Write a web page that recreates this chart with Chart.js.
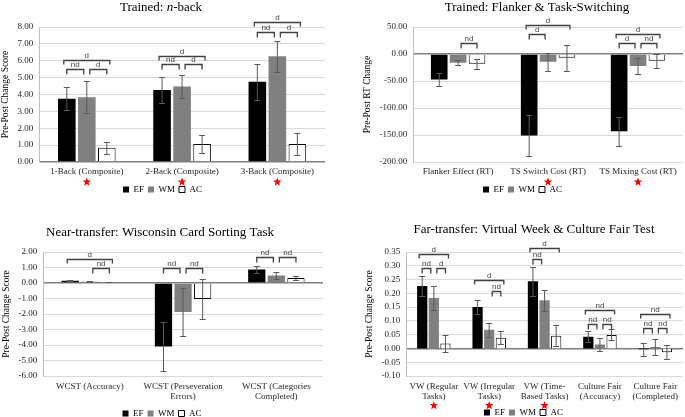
<!DOCTYPE html>
<html>
<head>
<meta charset="utf-8">
<script src="https://cdn.jsdelivr.net/npm/chart.js@4"></script>
<style>
  body { margin: 0; background: #fff; }
  #wrap { position: relative; width: 685px; height: 417px; overflow: hidden; }
  .p { position: absolute; }
</style>
</head>
<body>
<div id="wrap">
  <div class="p" style="left:0;top:0"><canvas id="c1" width="340" height="208"></canvas></div>
  <div class="p" style="left:340px;top:0"><canvas id="c2" width="345" height="208"></canvas></div>
  <div class="p" style="left:0;top:210px"><canvas id="c3" width="340" height="207"></canvas></div>
  <div class="p" style="left:340px;top:210px"><canvas id="c4" width="345" height="207"></canvas></div>
</div>
<script>
// groups
const groups = ['EF', 'WM', 'AC'];

// Trained: n-back
const nbackCats = ['1-Back (Composite)', '2-Back (Composite)', '3-Back (Composite)'];
const nbackEF = [3.75, 4.27, 4.76];
const nbackWM = [3.84, 4.48, 6.27];
const nbackAC = [0.84, 1.07, 1.07];
const nbackEFerr = [0.68, 0.77, 1.07];
const nbackWMerr = [0.95, 0.70, 0.92];
const nbackACerr = [0.35, 0.53, 0.65];
// [category, from bar, to bar, height (data units), label]
const nbackBrackets = [[0,0,1,5.5,'nd'],[0,1,2,5.5,'d'],[0,0,2,6.03,'d'],
                       [1,0,1,5.79,'nd'],[1,1,2,5.79,'d'],[1,0,2,6.31,'d'],
                       [2,0,1,7.68,'nd'],[2,1,2,7.68,'d'],[2,0,2,8.28,'d']];
const nbackStars = [0, 1, 2];

// Trained: Flanker & Task-Switching
const flankCats = ['Flanker Effect (RT)', 'TS Switch Cost (RT)', 'TS Mixing Cost (RT)'];
const flankEF = [-47, -151, -143];
const flankWM = [-16, -14.5, -22];
const flankAC = [-18, -7, -12.6];
const flankEFerr = [11.5, 38, 26.5];
const flankWMerr = [5, 17, 15];
const flankACerr = [9, 24, 13];
const flankBrackets = [[0,1,2,20.8,'nd'],[1,0,1,36.6,'d'],[1,0,2,53.7,'d'],
                       [2,0,1,20.8,'d'],[2,1,2,20.8,'nd'],[2,0,2,37.9,'d']];
const flankStars = [1, 2];

// Near-transfer: WCST
const wcstCats = ['WCST (Accuracy)', ['WCST (Perseveration', 'Errors)'], ['WCST (Categories', 'Completed)']];
const wcstEF = [0.15, -4.09, 0.87];
const wcstWM = [0.08, -1.87, 0.48];
const wcstAC = [0.07, -1.04, 0.33];
const wcstEFerr = [0.03, 1.6, 0.22];
const wcstWMerr = [0.02, 1.55, 0.24];
const wcstACerr = [0.02, 1.27, 0.15];
const wcstBrackets = [[0,0,2,1.52,'d'],[0,1,2,0.98,'nd'],[1,0,1,0.98,'nd'],[1,1,2,0.98,'nd'],
                      [2,0,1,1.67,'nd'],[2,1,2,1.67,'nd']];
const wcstStars = [];

// Far-transfer: Virtual Week & Culture Fair
const farCats = [['VW (Regular', 'Tasks)'], ['VW (Irregular', 'Tasks)'], ['VW (Time-', 'Based Tasks)'],
                 ['Culture Fair', '(Accuracy)'], ['Culture Fair', '(Completed)']];
const farEF = [0.227, 0.150, 0.244, 0.042, -0.003];
const farWM = [0.183, 0.068, 0.175, 0.014, 0.005];
const farAC = [0.018, 0.039, 0.046, 0.049, -0.014];
const farEFerr = [0.036, 0.025, 0.053, 0.020, 0.023];
const farWMerr = [0.043, 0.025, 0.038, 0.025, 0.029];
const farACerr = [0.030, 0.024, 0.038, 0.020, 0.025];
const farBrackets = [[0,0,2,0.343,'d'],[0,0,1,0.293,'nd'],[0,1,2,0.293,'d'],
                     [1,0,2,0.248,'d'],[1,1,2,0.207,'nd'],
                     [2,0,2,0.365,'d'],[2,0,1,0.324,'nd'],
                     [3,0,2,0.14,'nd'],[3,0,1,0.088,'nd'],[3,1,2,0.088,'nd'],
                     [4,0,2,0.125,'nd'],[4,0,1,0.073,'nd'],[4,1,2,0.073,'nd']];
const farStars = [0, 1, 2];

const SERIF = '"Liberation Serif", "Times New Roman", serif';
const SANS = '"Liberation Sans", Arial, sans-serif';

function drawStar(ctx, cx, cy, r) {
  ctx.beginPath();
  for (let k = 0; k < 10; k++) {
    const rr = k % 2 ? r * 0.42 : r;
    const a = -Math.PI / 2 + k * Math.PI / 5;
    const px = cx + rr * Math.cos(a), py = cy + rr * Math.sin(a);
    k ? ctx.lineTo(px, py) : ctx.moveTo(px, py);
  }
  ctx.closePath();
  ctx.fill();
}

// error bars, significance brackets, stars and the title
const extras = {
  id: 'extras',
  afterDatasetsDraw(chart, args, o) {
    const ctx = chart.ctx, y = chart.scales.y;
    ctx.save();
    ctx.strokeStyle = '#595959';
    ctx.lineWidth = 1;
    chart.data.datasets.forEach((ds, i) => {
      const meta = chart.getDatasetMeta(i);
      ds.err.forEach((e, j) => {
        const bx = meta.data[j].x, v = ds.data[j];
        const yt = Math.round(y.getPixelForValue(v + e)) + 0.5;
        const yb = Math.round(y.getPixelForValue(v - e)) + 0.5;
        ctx.beginPath();
        ctx.moveTo(bx, yt); ctx.lineTo(bx, yb);
        ctx.moveTo(bx - 3, yt); ctx.lineTo(bx + 3, yt);
        ctx.moveTo(bx - 3, yb); ctx.lineTo(bx + 3, yb);
        ctx.stroke();
      });
    });

    // brackets
    ctx.strokeStyle = '#404040';
    ctx.lineWidth = 1.3;
    ctx.fillStyle = '#404040';
    ctx.font = '8px ' + SANS;
    ctx.textAlign = 'center';
    ctx.textBaseline = 'bottom';
    o.brackets.forEach(([c, a, b, v, lab]) => {
      let x1 = chart.getDatasetMeta(a).data[c].x;
      let x2 = chart.getDatasetMeta(b).data[c].x;
      if (b - a === 2) { x1 -= 3; x2 += 3; }
      else if (a === 0) { x2 -= 3; }
      else { x1 += 3; }
      const by = Math.round(y.getPixelForValue(v)) + 0.5;
      const tick = b - a === 2 ? 4 : 5;
      ctx.beginPath();
      ctx.moveTo(x1, by + tick); ctx.lineTo(x1, by); ctx.lineTo(x2, by); ctx.lineTo(x2, by + tick);
      ctx.stroke();
      ctx.fillText(lab, (x1 + x2) / 2, by - 1);
    });
    ctx.restore();
  },
  afterDraw(chart, args, o) {
    const ctx = chart.ctx, x = chart.scales.x;
    ctx.save();
    ctx.fillStyle = '#ff0000';
    o.stars.forEach(c => drawStar(ctx, x.getPixelForValue(c), x.top + o.starOffset, 4.5));
    // title with mixed styles
    ctx.fillStyle = '#000';
    ctx.textBaseline = 'middle';
    ctx.textAlign = 'left';
    const f = p => (p.italic ? 'italic ' : '') + '13px ' + SERIF;
    let total = 0;
    o.title.forEach(p => { ctx.font = f(p); total += ctx.measureText(p.t).width; });
    let tx = o.titleX - total / 2;
    o.title.forEach(p => {
      ctx.font = f(p);
      ctx.fillText(p.t, tx, o.titleY);
      tx += ctx.measureText(p.t).width;
    });
    ctx.restore();
  }
};

function fmt(v) {
  return Math.abs(v) < 1e-9 ? '0.00' : v.toFixed(2);
}

function build(id, cfg) {
  return new Chart(document.getElementById(id), {
    type: 'bar',
    data: {
      labels: cfg.cats,
      datasets: [
        { label: groups[0], data: cfg.ef, err: cfg.efErr, backgroundColor: '#000000', borderWidth: 0 },
        { label: groups[1], data: cfg.wm, err: cfg.wmErr, backgroundColor: '#808080', borderWidth: 0 },
        { label: groups[2], data: cfg.ac, err: cfg.acErr, backgroundColor: '#ffffff', borderColor: '#000000', borderWidth: 1 }
      ]
    },
    options: {
      responsive: false,
      animation: false,
      layout: { padding: cfg.pad },
      datasets: { bar: { categoryPercentage: 0.63, barPercentage: 0.88 } },
      scales: {
        x: {
          grid: { display: false, drawTicks: false },
          border: { display: false },
          ticks: { color: '#262626', font: { family: SERIF, size: 9, lineHeight: 1.1 }, maxRotation: 0, autoSkip: false, padding: cfg.xPad },
          afterFit: s => { s.height = cfg.xH; }
        },
        y: {
          min: cfg.min, max: cfg.max,
          ticks: { stepSize: cfg.step, autoSkip: false, callback: v => fmt(v), color: '#262626', font: { family: SERIF, size: 9 }, padding: 6 },
          grid: {
            drawTicks: false,
            color: c => Math.abs(c.tick.value) < 1e-9 ? '#7f7f7f' : '#d9d9d9',
            lineWidth: c => Math.abs(c.tick.value) < 1e-9 ? 1.5 : 1
          },
          border: { display: true, color: '#bfbfbf' },
          title: { display: true, text: cfg.yTitle, color: '#000', font: { family: SERIF, size: 9.5 }, padding: 0 }
        }
      },
      plugins: {
        legend: {
          position: 'bottom',
          labels: { boxWidth: 6, boxHeight: 6, color: '#000', font: { family: SERIF, size: 9 }, padding: 4 }
        },
        tooltip: { enabled: false },
        extras: { brackets: cfg.brackets, stars: cfg.stars, starOffset: cfg.starOffset,
                  title: cfg.title, titleX: cfg.titleX, titleY: cfg.titleY }
      }
    },
    plugins: [extras]
  });
}

build('c1', {
  cats: nbackCats, ef: nbackEF, wm: nbackWM, ac: nbackAC,
  efErr: nbackEFerr, wmErr: nbackWMerr, acErr: nbackACerr,
  brackets: nbackBrackets, stars: nbackStars,
  min: 0, max: 8, step: 1, yTitle: 'Pre-Post Change Score',
  pad: { top: 27, right: 15, left: 0, bottom: 4 }, xH: 19, xPad: 5, starOffset: 20,
  title: [{ t: 'Trained: ' }, { t: 'n', italic: true }, { t: '-back' }], titleX: 161, titleY: 8
});

build('c2', {
  cats: flankCats, ef: flankEF, wm: flankWM, ac: flankAC,
  efErr: flankEFerr, wmErr: flankWMerr, acErr: flankACerr,
  brackets: flankBrackets, stars: flankStars,
  min: -200, max: 50, step: 50, yTitle: 'Pre-Post RT Change',
  pad: { top: 27, right: 2, left: 22, bottom: 4 }, xH: 19, xPad: 5, starOffset: 20,
  title: [{ t: 'Trained: Flanker & Task-Switching' }], titleX: 197, titleY: 8
});

build('c3', {
  cats: wcstCats, ef: wcstEF, wm: wcstWM, ac: wcstAC,
  efErr: wcstEFerr, wmErr: wcstWMerr, acErr: wcstACerr,
  brackets: wcstBrackets, stars: wcstStars,
  min: -6, max: 2, step: 1, yTitle: 'Pre-Post Change Score',
  pad: { top: 42, right: 17, left: 1, bottom: -11 }, xH: 29, xPad: 6, starOffset: 0,
  title: [{ t: 'Near-transfer: Wisconsin Card Sorting Task' }], titleX: 160, titleY: 23
});

build('c4', {
  cats: farCats, ef: farEF, wm: farWM, ac: farAC,
  efErr: farEFerr, wmErr: farWMerr, acErr: farACerr,
  brackets: farBrackets, stars: farStars,
  min: -0.1, max: 0.35, step: 0.05, yTitle: 'Pre-Post Change Score',
  pad: { top: 42, right: 2, left: 24, bottom: -10 }, xH: 28, xPad: 6, starOffset: 29.5,
  title: [{ t: 'Far-transfer: Virtual Week & Culture Fair Test' }], titleX: 194, titleY: 20
});
</script>
</body>
</html>
